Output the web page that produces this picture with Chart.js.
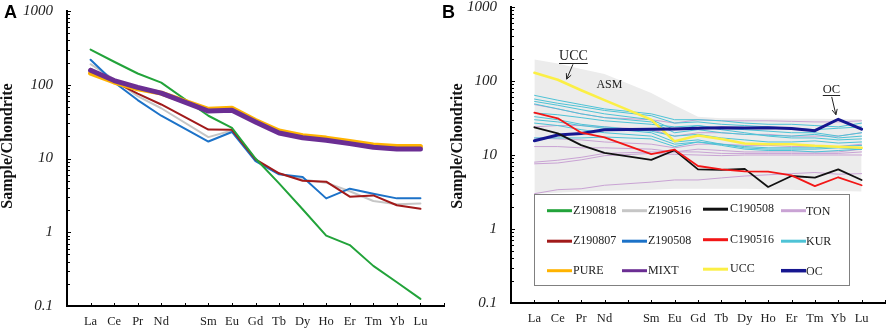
<!DOCTYPE html>
<html><head><meta charset="utf-8">
<script src="https://cdn.jsdelivr.net/npm/chart.js@4/dist/chart.umd.min.js"></script>
<style>
html,body{margin:0;padding:0;background:#fff;width:886px;height:329px;overflow:hidden}
.w{position:absolute;top:0;width:446px;height:329px}
#wa{left:0}
#wb{left:440px}
</style></head><body>
<div class="w" id="wa"><canvas id="ca" width="446" height="329"></canvas></div>
<div class="w" id="wb"><canvas id="cb" width="446" height="329"></canvas></div>
<script>
// ---------- categories & ticks ----------
const elements = ['La','Ce','Pr','Nd','','Sm','Eu','Gd','Tb','Dy','Ho','Er','Tm','Yb','Lu'];
const yTicks = [0.1, 1, 10, 100, 1000];
const yTickLabels = ['0.1', '1', '10', '100', '1000'];
const yTitle = 'Sample/Chondrite';

// ---------- panel A series ----------
const Z190818 = [300, 205, 142, 107, null, 38, 26, 10, 4.6, 2.05, 0.9, 0.67, 0.35, 0.21, 0.125];
const Z190516 = [190, 118, 70, 48, null, 19.5, 24, 9.5, 6.2, 5.2, 4.7, 3.6, 2.65, 2.4, 2.45];
const Z190807 = [164, 110, 76, 54, null, 24.7, 24.5, 9.7, 6.3, 5.0, 4.85, 3.04, 3.16, 2.32, 2.08];
const Z190508 = [218, 108, 62, 38, null, 17, 22.9, 9.2, 6.1, 5.6, 2.88, 3.9, 3.33, 2.88, 2.88];
const PURE    = [144, 109, 88, 77, null, 46.5, 48, 32.8, 23.6, 20.3, 18.9, 17, 15.2, 14.5, 14.5];
const MIXT    = [157, 114, 92, 77, null, 44, 45, 31.3, 22.2, 19.1, 17.7, 15.9, 14.2, 13.5, 13.5];

// ---------- panel B series ----------
const C190508 = [23.7, 19.6, 13.6, 10.7, null, 8.6, 11.6, 6.4, 6.3, 6.5, 3.7, 5.2, 4.95, 6.4, 4.6];
const C190516 = [37.3, 31.3, 20, 17.3, null, 10.3, 11.8, 7.1, 6.4, 6.0, 5.95, 5.3, 3.8, 5.0, 3.9];
const UCC     = [129, 104, 75, 55, null, 30, 15.3, 18.3, 16.5, 14.3, 14, 14, 13.3, 12.9, 12.5];
const OC      = [15.6, 18.6, 19.5, 22, null, 22.3, 22.5, 23, 23.4, 23.2, 23.4, 22.8, 21.3, 30.4, 22.3];
const ASM_upper = [195, 172, 145, 124, null, 69, 47, 33, 31.5, 31.3, 31.2, 31, 30.8, 30.6, 30.4];
const ASM_lower = [3.0, 3.1, 3.2, 3.3, null, 3.4, 3.5, 3.5, 3.5, 3.5, 3.45, 3.4, 3.3, 3.25, 3.2];
const TON = [
  [48, 42, 36, 32, null, 30, 27, 30, 29, 29, 29, 28.5, 28, 28, 29],
  [24, 25, 25, 24, null, 22, 18, 20, 20, 19, 19, 18, 18, 18, 20],
  [17, 16.5, 16, 15, null, 14, 12.5, 14, 14, 13.5, 13.5, 13, 13, 13, 14],
  [13, 13, 12.5, 12.5, null, 12, 11, 12, 11.5, 11, 11, 11, 11, 11, 12],
  [8.0, 8.5, 9.3, 10.5, null, 11, 11, 11, 10.5, 10.5, 10.5, 10.5, 10.5, 10.5, 11],
  [7.6, 7.8, 8.6, 9.8, null, 10.5, 10.2, 10, 9.8, 10, 10, 10, 10, 10, 10],
  [3.0, 3.4, 3.5, 3.9, null, 4.3, 4.6, 4.6, 4.9, 5.2, 5.4, 5.6, 5.8, 5.5, 5.6]
];
const KUR = [
  [64, 55, 48, 42, null, 36, 30, 30, 29, 27, 26, 26, 25, 24, 27],
  [57, 50, 45, 40, null, 34, 27, 28, 26, 25, 24, 23, 22, 23, 24],
  [53, 47, 41, 36, null, 30, 22, 25, 23, 22, 21, 20, 20, 18, 20],
  [49, 42, 36, 32, null, 28, 20, 22, 20, 19, 18.5, 18, 19, 17, 18],
  [37, 35, 32, 29, null, 26, 24, 25, 22, 20, 18, 17, 17, 16, 16.5],
  [33, 30, 26, 24, null, 21, 18, 19, 17, 16, 15, 15, 15.5, 14.5, 15],
  [30, 28, 25, 23, null, 20, 15, 16, 14, 13, 12.5, 12.5, 12.5, 13, 13.5],
  [27, 25, 22, 20, null, 18, 14, 15, 13.5, 12, 11.5, 11.5, 11, 11.5, 12],
  [17, 17, 17, 17.5, null, 16.5, 13, 15, 14, 12.5, 12, 12, 12, 12.5, 12]
];

// ---------- styles ----------
const colors = {
  Z190818: '#22a33a', Z190516: '#c6c6c6', C190508: '#111111', TON: '#c9a3d4',
  Z190807: '#a11a1a', Z190508: '#1c72c8', C190516: '#f21616', KUR: '#4ec3d6',
  PURE: '#ffb300', MIXT: '#6b2e93', UCC: '#fbef45', OC: '#161690', ASM: '#ececec'
};
const legendOrder = ['Z190818','Z190516','C190508','TON','Z190807','Z190508','C190516','KUR','PURE','MIXT','UCC','OC'];

const toPts = arr => arr.map((v, i) => ({x: i + 1, y: v}));
function line(label, data, color, width, order, extra) {
  return Object.assign({label, data: toPts(data), borderColor: color, backgroundColor: color,
    borderWidth: width, pointRadius: 0, tension: 0, spanGaps: true, fill: false, order,
    borderJoinStyle: 'round', borderCapStyle: 'round'}, extra || {});
}

const decor = {
  id: 'decor',
  afterDraw(chart, args, o) {
    const ctx = chart.ctx, xs = chart.scales.x, ys = chart.scales.y, ca = chart.chartArea;
    ctx.save();
    ctx.strokeStyle = '#000'; ctx.lineWidth = 1;
    // y tick marks (inward, log minor)
    for (let e = -1; e <= 3; e++) {
      for (let k = 1; k <= 9; k++) {
        if (e === 3 && k > 1) break;
        const v = k * Math.pow(10, e);
        const py = Math.round(ys.getPixelForValue(v)) + 0.5;
        ctx.beginPath(); ctx.moveTo(ca.left, py); ctx.lineTo(ca.left + (k === 1 ? 4 : 3), py); ctx.stroke();
      }
    }
    // x tick marks (inward)
    for (let i = 1; i <= 16; i++) {
      const px = Math.round(xs.getPixelForValue(i)) + 0.5;
      ctx.beginPath(); ctx.moveTo(px, ca.bottom); ctx.lineTo(px, ca.bottom - 3); ctx.stroke();
    }
    // panel letter
    ctx.fillStyle = '#000';
    ctx.font = 'bold 18px "Liberation Sans"'; ctx.textAlign = 'left'; ctx.textBaseline = 'alphabetic';
    ctx.fillText(o.panel, o.panelX, 18);
    // y title
    ctx.save();
    ctx.translate(o.titleX, 146); ctx.rotate(-Math.PI / 2);
    ctx.font = 'bold 16px "Liberation Serif"'; ctx.textAlign = 'center'; ctx.textBaseline = 'middle';
    ctx.fillStyle = '#111';
    ctx.fillText(yTitle, 0, 0);
    ctx.restore();

    if (o.annotations) {
      ctx.fillStyle = '#222'; ctx.strokeStyle = '#222'; ctx.lineWidth = 1;
      for (const a of o.annotations) {
        ctx.font = a.size + 'px "Liberation Serif"'; ctx.textAlign = 'center'; ctx.textBaseline = 'middle';
        const tx = xs.getPixelForValue(a.x), ty = ys.getPixelForValue(a.y);
        ctx.fillText(a.text, tx, ty);
        if (a.underline) {
          const w = ctx.measureText(a.text).width;
          const uy = Math.round(ty + a.size * 0.45) + 0.5;
          ctx.beginPath(); ctx.moveTo(tx - w / 2, uy); ctx.lineTo(tx + w / 2, uy); ctx.stroke();
        }
        if (a.arrow) {
          const x0 = xs.getPixelForValue(a.arrow[0]), y0 = ys.getPixelForValue(a.arrow[1]);
          const x1 = xs.getPixelForValue(a.arrow[2]), y1 = ys.getPixelForValue(a.arrow[3]);
          ctx.beginPath(); ctx.moveTo(x0, y0); ctx.lineTo(x1, y1); ctx.stroke();
          const ang = Math.atan2(y1 - y0, x1 - x0), L = 6;
          ctx.beginPath();
          ctx.moveTo(x1 - L * Math.cos(ang - 0.45), y1 - L * Math.sin(ang - 0.45));
          ctx.lineTo(x1, y1);
          ctx.lineTo(x1 - L * Math.cos(ang + 0.45), y1 - L * Math.sin(ang + 0.45));
          ctx.stroke();
        }
      }
    }
    if (o.legend) {
      const L = o.legend;
      ctx.fillStyle = '#fff';
      ctx.fillRect(L.x0, L.y0, L.x1 - L.x0, L.y1 - L.y0);
      ctx.strokeStyle = '#808080'; ctx.lineWidth = 1;
      ctx.strokeRect(L.x0 + 0.5, L.y0 + 0.5, L.x1 - L.x0, L.y1 - L.y0);
      ctx.font = '12px "Liberation Serif"'; ctx.textAlign = 'left'; ctx.textBaseline = 'middle';
      legendOrder.forEach((name, i) => {
        const r = Math.floor(i / 4), c = i % 4;
        const y = L.rows[r] + L.colDy[c];
        ctx.strokeStyle = colors[name]; ctx.lineWidth = name === 'OC' ? 3.5 : 3;
        ctx.beginPath(); ctx.moveTo(L.lineX[c], y); ctx.lineTo(L.lineX[c] + 25, y); ctx.stroke();
        ctx.fillStyle = '#222';
        ctx.fillText(name, L.textX[c], y + L.textDy[c]);
      });
    }
    ctx.restore();
  }
};

function baseOptions(yWidth, xHeight, pad, decorOpts) {
  return {
    responsive: false, animation: false, devicePixelRatio: 1,
    layout: {padding: pad},
    plugins: {legend: {display: false}, tooltip: {enabled: false}, decor: decorOpts},
    scales: {
      x: {
        type: 'linear', min: 0, max: 16,
        afterBuildTicks: s => { s.ticks = elements.map((_, i) => ({value: i + 1})); },
        afterFit: s => { s.height = xHeight; s.paddingLeft = 0; s.paddingRight = 0; },
        ticks: {autoSkip: false, maxRotation: 0, padding: 8, color: '#222',
          font: {family: 'Liberation Serif', size: 12.5},
          callback: v => elements[v - 1]},
        grid: {display: false, drawTicks: false},
        border: {display: true, color: '#000', width: 2}
      },
      y: {
        type: 'logarithmic', min: 0.1, max: 1000,
        afterBuildTicks: s => { s.ticks = yTicks.map(v => ({value: v})); },
        afterFit: s => { s.width = yWidth; s.paddingTop = 0; s.paddingBottom = 0; },
        ticks: {autoSkip: false, padding: 14, color: '#222',
          font: {family: 'Liberation Serif', style: 'italic', size: 15},
          callback: v => yTickLabels[yTicks.indexOf(v)]},
        grid: {display: false, drawTicks: false},
        border: {display: true, color: '#000', width: 2}
      }
    }
  };
}

// ---------- chart A ----------
new Chart(document.getElementById('ca'), {
  type: 'line',
  data: {datasets: [
    line('MIXT', MIXT, colors.MIXT, 5, 0),
    line('PURE', PURE, colors.PURE, 5, 1),
    line('Z190818', Z190818, colors.Z190818, 2, 2),
    line('Z190807', Z190807, colors.Z190807, 2, 3),
    line('Z190508', Z190508, colors.Z190508, 2, 4),
    line('Z190516', Z190516, colors.Z190516, 2, 5)
  ]},
  options: baseOptions(67, 23, {top: 11, right: 2, left: 0, bottom: 0},
    {panel: 'A', panelX: 4, titleX: 8}),
  plugins: [decor]
});

// ---------- chart B ----------
const dsB = [
  line('C190516', C190516, colors.C190516, 1.8, 0),
  line('C190508', C190508, colors.C190508, 1.8, 1),
  line('OC', OC, colors.OC, 3, 2),
  line('UCC', UCC, colors.UCC, 2.5, 3)
];
KUR.forEach((s, i) => dsB.push(line('KUR', s, colors.KUR, 1, 10 + i)));
TON.forEach((s, i) => dsB.push(line('TON', s, colors.TON, 1, 30 + i)));
dsB.push(line('ASM', ASM_upper, 'rgba(0,0,0,0)', 0, 90, {fill: '+1', backgroundColor: colors.ASM}));
dsB.push(line('ASM_low', ASM_lower, 'rgba(0,0,0,0)', 0, 91));

new Chart(document.getElementById('cb'), {
  type: 'line',
  data: {datasets: dsB},
  options: baseOptions(71, 26, {top: 7, right: 1, left: 0, bottom: 0}, {
    panel: 'B', panelX: 2, titleX: 18,
    annotations: [
      {text: 'UCC', size: 14, x: 2.67, y: 213, underline: true, arrow: [2.65, 168, 2.38, 106]},
      {text: 'ASM', size: 12, x: 4.21, y: 90},
      {text: 'OC', size: 12.5, x: 13.71, y: 77.3, underline: true, arrow: [13.72, 61, 13.9, 35]}
    ],
    legend: {x0: 94, y0: 194, x1: 409, y1: 285,
      rows: [210.7, 241.2, 270.7],
      lineX: [107, 182, 263, 341], textX: [133, 208, 290, 366],
      colDy: [0, 0, -1.5, 0], textDy: [0, 0, 0, 1]}
  }),
  plugins: [decor]
});
</script>
</body></html>
